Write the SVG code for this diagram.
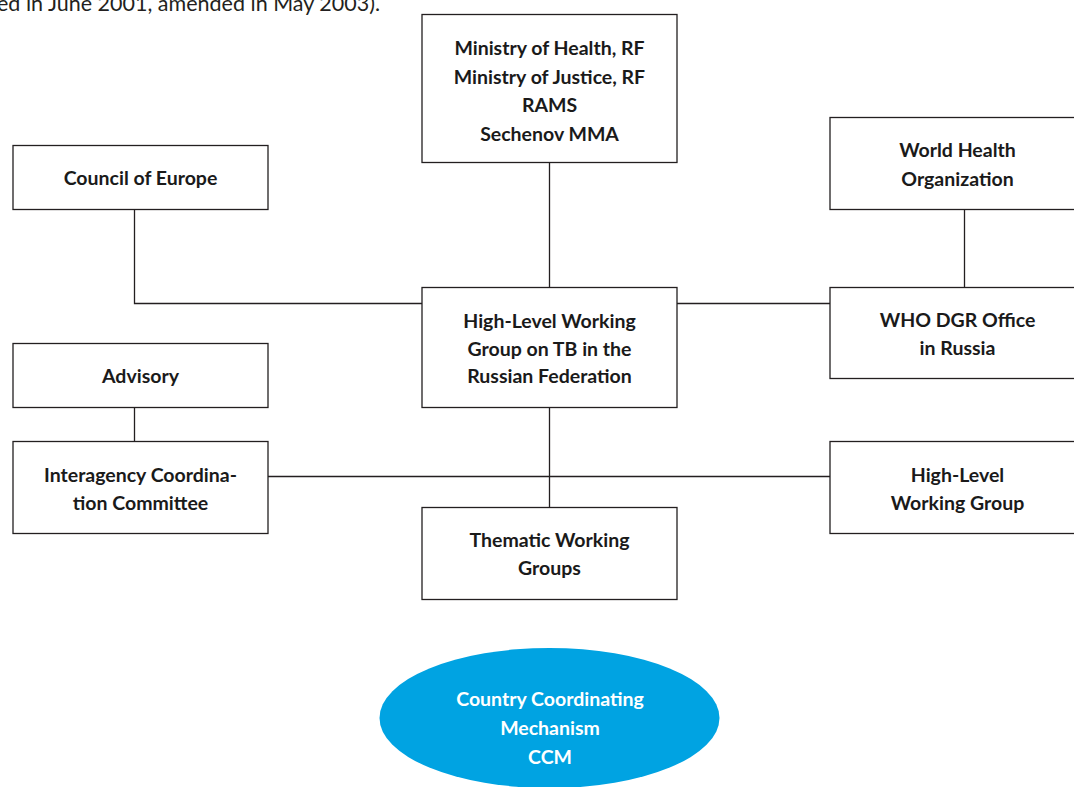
<svg xmlns="http://www.w3.org/2000/svg" width="1074" height="787" viewBox="0 0 1074 787">
<style>
.box{fill:#fff;stroke:#231f20;stroke-width:1.3}
.ln{stroke:#231f20;stroke-width:1.3;fill:none}
.t{font-family:Lato,"Liberation Sans",sans-serif;font-weight:bold;font-size:19.5px;fill:#1a1a1a;text-anchor:middle}
.w{fill:#fff}
.cap{font-family:Lato,"Liberation Sans",sans-serif;font-size:21.5px;fill:#231f20}
</style>
<rect width="1074" height="787" fill="#fff"/>
<text class="cap" x="-3" y="10.5">ed in June 2001, amended in May 2003).</text>
<g id="connectors">
<path class="ln" d="M549.5 162V287M134.5 209V303.5H422M677 303.5H830M964.5 209V287M134.5 407V441M549.5 407V507M268 476.5H830"/>
</g>
<g id="ministries"><rect class="box" x="422" y="14.5" width="255" height="148"/>
<text class="t"><tspan x="549.5" y="55">Ministry of Health, RF</tspan><tspan x="549.5" y="83.5">Ministry of Justice, RF</tspan><tspan x="549.5" y="112">RAMS</tspan><tspan x="549.5" y="140.5">Sechenov MMA</tspan></text></g>
<g id="council"><rect class="box" x="13" y="145.5" width="255" height="64"/>
<text class="t" x="140.5" y="185">Council of Europe</text></g>
<g id="who"><rect class="box" x="830" y="117.5" width="256" height="92"/>
<text class="t"><tspan x="957.5" y="157">World Health</tspan><tspan x="957.5" y="185.5">Organization</tspan></text></g>
<g id="hlwg-tb"><rect class="box" x="422" y="287.5" width="255" height="120"/>
<text class="t"><tspan x="549.5" y="328">High-Level Working</tspan><tspan x="549.5" y="355.5">Group on TB in the</tspan><tspan x="549.5" y="383">Russian Federation</tspan></text></g>
<g id="who-dgr"><rect class="box" x="830" y="287.5" width="256" height="91"/>
<text class="t"><tspan x="957.5" y="327">WHO DGR Office</tspan><tspan x="957.5" y="355">in Russia</tspan></text></g>
<g id="advisory"><rect class="box" x="13" y="343.5" width="255" height="64"/>
<text class="t" x="140.5" y="383">Advisory</text></g>
<g id="interagency"><rect class="box" x="13" y="441.5" width="255" height="92"/>
<text class="t"><tspan x="140.5" y="482">Interagency Coordina-</tspan><tspan x="140.5" y="510">tion Committee</tspan></text></g>
<g id="hlwg"><rect class="box" x="830" y="441.5" width="256" height="92"/>
<text class="t"><tspan x="957.5" y="482">High-Level</tspan><tspan x="957.5" y="510">Working Group</tspan></text></g>
<g id="thematic"><rect class="box" x="422" y="507.5" width="255" height="92"/>
<text class="t"><tspan x="549.5" y="547">Thematic Working</tspan><tspan x="549.5" y="575">Groups</tspan></text></g>
<g id="ccm"><ellipse cx="549.5" cy="718" rx="170" ry="70" fill="#00a3e2"/>
<text class="t w"><tspan x="550" y="706">Country Coordinating</tspan><tspan x="550" y="735">Mechanism</tspan><tspan x="550" y="764">CCM</tspan></text></g>
</svg>
